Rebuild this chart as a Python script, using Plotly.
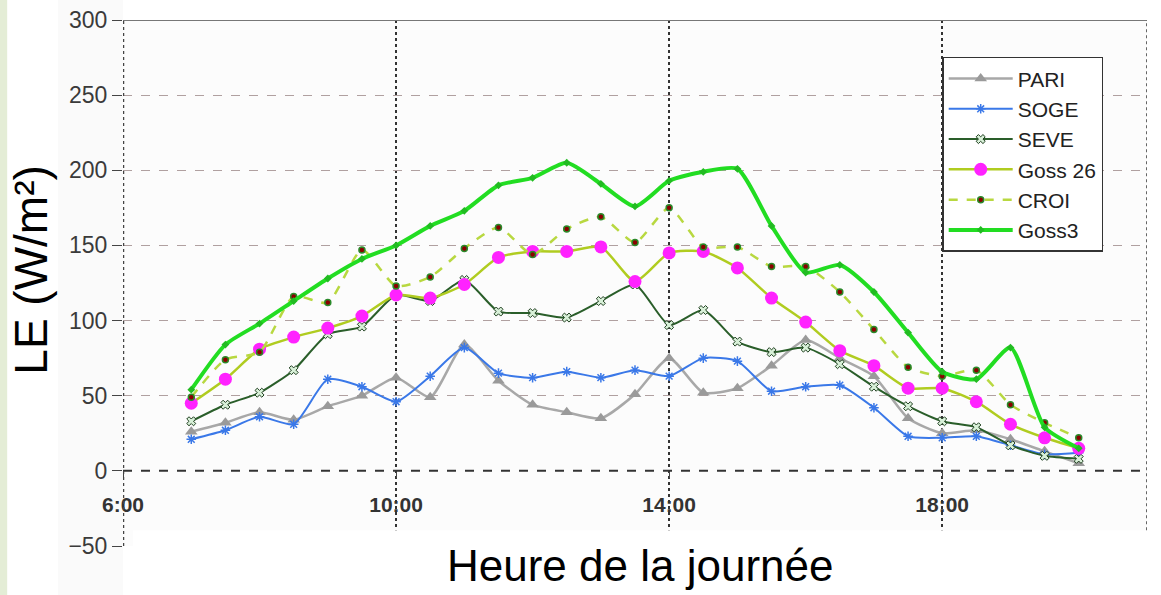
import plotly.graph_objects as go

hours = [7, 7.5, 8, 8.5, 9, 9.5, 10, 10.5, 11, 11.5, 12, 12.5, 13, 13.5,
         14, 14.5, 15, 15.5, 16, 16.5, 17, 17.5, 18, 18.5, 19, 19.5, 20]

pari = [26, 32, 39, 34, 43, 50, 62, 49, 84, 60, 44, 39, 35, 51,
        75, 52, 55, 70, 87, 75, 63, 35, 25, 27, 21, 13, 5]
soge = [21, 27, 36, 31, 61, 56, 46, 63, 82, 65, 62, 66, 62, 67,
        63, 75, 73, 53, 56, 57, 42, 23, 22, 23, 17, 11, 12]
seve = [33, 44, 52, 67, 91, 96, 117, 113, 127, 106, 105, 102, 113, 124,
        97, 107, 86, 79, 82, 71, 56, 43, 33, 29, 17, 10, 8]
goss26 = [45, 61, 81, 89, 95, 103, 117, 115, 124, 142, 146, 146, 149, 126,
          145, 146, 135, 115, 99, 80, 70, 55, 55, 46, 31, 22, 15]
croi = [49, 74, 79, 116, 112, 147, 123, 129, 148, 162, 144, 161, 169, 152,
        175, 149, 149, 136, 136, 119, 94, 69, 63, 67, 44, 32, 22]
goss3 = [54, 84, 98, 113, 128, 141, 150, 163, 173, 190, 195, 205, 191, 176,
         193, 199, 201, 163, 132, 137, 119, 92, 66, 61, 82, 29, 15]

x_tickvals = [6, 10, 14, 18]
x_ticktext = ["6:00", "10:00", "14:00", "18:00"]
y_tickvals = [-50, 0, 50, 100, 150, 200, 250, 300]

FONT = "Liberation Sans, Arial, sans-serif"

fig = go.Figure()

series = [
    ("PARI", pari, dict(color="#a8a8a8", width=2.5), dict(symbol="triangle-up", size=11, color="#9a9a9a")),
    ("SOGE", soge, dict(color="#3a78e8", width=2), dict(symbol="asterisk-open", size=8, line=dict(color="#7fb7ff", width=1.5))),
    ("SEVE", seve, dict(color="#2a5e2a", width=2), dict(symbol="x", size=8, color="#d8f0d8", line=dict(color="#1f3f1f", width=1))),
    ("Goss 26", goss26, dict(color="#b0cc20", width=2.5), dict(symbol="circle", size=13, color="#ff22ff")),
    ("CROI", croi, dict(color="#b8d840", width=2.5, dash="dash"), dict(symbol="circle", size=6, color="#8b0000", line=dict(color="#2a8a2a", width=1.5))),
    ("Goss3", goss3, dict(color="#22dd22", width=4), dict(symbol="diamond", size=6, color="#22bb22")),
]

for name, vals, ln, mk in series:
    fig.add_trace(go.Scatter(
        x=hours, y=vals, name=name, mode="lines+markers",
        line=dict(shape="spline", smoothing=0.6, **ln), marker=mk,
    ))

shapes = [
    # left light-green strip
    dict(type="rect", xref="paper", yref="paper", x0=-0.1201, x1=-0.1131, y0=-0.1, y1=1.04,
         fillcolor="#e4edd6", line=dict(width=0), layer="below"),
    # faint grey band left of the axis
    dict(type="rect", xref="paper", yref="paper", x0=-0.0635, x1=0, y0=-0.1, y1=1.04,
         fillcolor="#fafafa", line=dict(width=0), layer="below"),
    # white box under the plot for the title
    dict(type="rect", xref="x", yref="y", x0=6.15, x1=21.3, y0=-52, y1=-39.5,
         fillcolor="white", line=dict(width=0), layer="above"),
    # zero line
    dict(type="line", xref="x", yref="y", x0=6, x1=21, y0=0, y1=0,
         line=dict(color="#333333", width=2, dash="dash"), layer="above"),
    # y axis line (dotted)
    dict(type="line", xref="x", yref="y", x0=6, x1=6, y0=-50, y1=300,
         line=dict(color="#444444", width=2.5, dash="dot"), layer="above"),
    # top border
    dict(type="line", xref="x", yref="y", x0=6, x1=21, y0=300, y1=300,
         line=dict(color="#777777", width=2), layer="above"),
    # right border
    dict(type="line", xref="x", yref="y", x0=21, x1=21, y0=-39.5, y1=300,
         line=dict(color="#666666", width=2, dash="dot"), layer="above"),
]

fig.update_layout(
    width=1161, height=595,
    margin=dict(l=123, r=14, t=20, b=49, autoexpand=False),
    paper_bgcolor="white", plot_bgcolor="#fcfcfc",
    font=dict(family=FONT, color="#333333"),
    shapes=shapes,
    showlegend=True,
    legend=dict(
        x=0.80, y=0.93, xanchor="left", yanchor="top",
        bgcolor="white", bordercolor="#333333", borderwidth=1.5,
        font=dict(size=21, color="#222222", family=FONT),
        itemwidth=64,
    ),
    xaxis=dict(
        range=[6, 21], tickvals=x_tickvals,
        ticktext=[f"<b>{t}</b>" for t in x_ticktext],
        showgrid=True, griddash="dot", gridcolor="#333333", gridwidth=1.5,
        zeroline=False, showline=False, automargin=False,
        anchor="free", position=50 / 350,
        ticks="outside", ticklen=6, tickcolor="#444444",
        ticklabelstandoff=9,
        tickfont=dict(size=21, color="#333333", family=FONT),
    ),
    yaxis=dict(
        range=[-50, 300], tickvals=y_tickvals,
        showgrid=True, griddash="dash", gridcolor="#b0a0a0", gridwidth=1,
        zeroline=False, showline=False, automargin=False,
        ticks="outside", ticklen=10, tickcolor="#444444",
        tickfont=dict(size=23, color="#3a3a3a", family=FONT),
    ),
    annotations=[
        dict(text="Heure de la journée", xref="paper", yref="paper",
             x=0.505, y=-0.038, xanchor="center", yanchor="middle", showarrow=False,
             font=dict(size=44, color="black", family=FONT)),
        dict(text="LE (W/m²)", xref="paper", yref="paper",
             x=-0.09, y=0.525, xanchor="center", yanchor="middle", showarrow=False,
             textangle=-90, font=dict(size=46, color="black", family=FONT)),
    ],
)

fig.write_html("out.html")
